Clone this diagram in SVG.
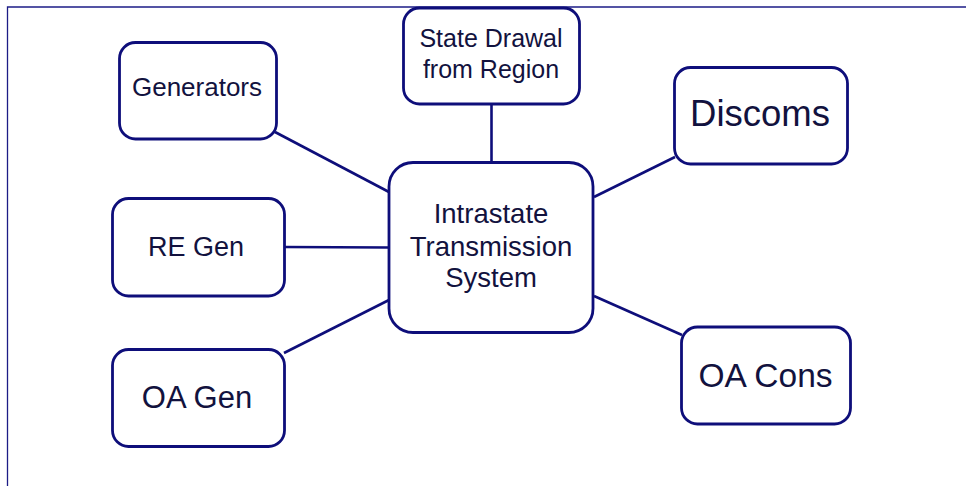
<svg xmlns="http://www.w3.org/2000/svg" width="966" height="486" viewBox="0 0 966 486">
  <style>
    .frame { stroke: #1c1c86; stroke-width: 1.3; fill: none; }
    .box { fill: #ffffff; stroke: #0e0e7a; stroke-width: 2.8; }
    .link { stroke: #0e0e7a; stroke-width: 2.6; fill: none; }
    .label { font-family: "Liberation Sans", Arial, sans-serif; fill: #12123e; text-anchor: middle; }
  </style>
  <rect width="966" height="486" fill="#ffffff"/>
  <!-- page frame: top and left edges -->
  <path class="frame" d="M7.5 486 V7 H966"/>

  <g id="connectors">
    <line class="link" x1="491.5" y1="104" x2="491.5" y2="162"/>
    <line class="link" x1="275" y1="132" x2="389" y2="192"/>
    <line class="link" x1="284" y1="247" x2="389" y2="247.5"/>
    <line class="link" x1="284" y1="353" x2="389" y2="300"/>
    <line class="link" x1="594" y1="197" x2="675" y2="157"/>
    <line class="link" x1="594" y1="296" x2="682" y2="335"/>
  </g>

  <g id="node-center">
    <rect class="box" x="389" y="162.5" width="204" height="170" rx="24"/>
    <text class="label" font-size="27.5" x="491" y="223">Intrastate</text>
    <text class="label" font-size="27.5" x="491" y="256">Transmission</text>
    <text class="label" font-size="27.5" x="491" y="287">System</text>
  </g>

  <g id="node-state-drawal">
    <rect class="box" x="403.5" y="8" width="176" height="96" rx="16"/>
    <text class="label" font-size="25" x="491" y="47">State Drawal</text>
    <text class="label" font-size="25" x="491" y="78">from Region</text>
  </g>

  <g id="node-generators">
    <rect class="box" x="119.5" y="42.5" width="157" height="96.5" rx="16"/>
    <text class="label" font-size="26" x="197" y="96">Generators</text>
  </g>

  <g id="node-re-gen">
    <rect class="box" x="112.5" y="198.5" width="172" height="97.5" rx="16"/>
    <text class="label" font-size="27" x="196" y="256">RE Gen</text>
  </g>

  <g id="node-oa-gen">
    <rect class="box" x="112.5" y="349.5" width="172" height="97" rx="16"/>
    <text class="label" font-size="31" x="197" y="408">OA Gen</text>
  </g>

  <g id="node-discoms">
    <rect class="box" x="674.5" y="67.5" width="173" height="96.5" rx="16"/>
    <text class="label" font-size="36.5" x="760" y="126">Discoms</text>
  </g>

  <g id="node-oa-cons">
    <rect class="box" x="681.5" y="327" width="169" height="97" rx="16"/>
    <text class="label" font-size="33.5" x="765.5" y="387">OA Cons</text>
  </g>
</svg>
